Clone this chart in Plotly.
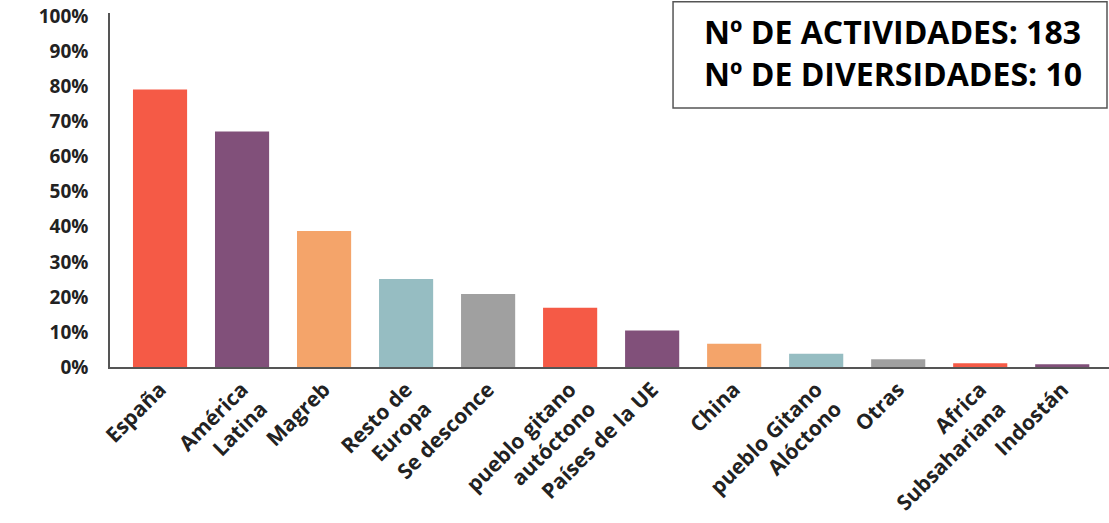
import plotly.graph_objects as go

categories = ["España", "América<br>Latina", "Magreb", "Resto de<br>Europa", "Se desconce",
              "pueblo gitano<br>autóctono", "Países de la UE", "China",
              "pueblo Gitano<br>Alóctono", "Otras", "Africa<br>Subsahariana", "Indostán"]
values = [79.2, 67.2, 38.8, 25.1, 20.8, 16.9, 10.4, 6.6, 3.8, 2.2, 1.1, 0.8]
colors = ["#F55A46", "#81507A", "#F4A46A", "#96BDC2", "#A0A0A0", "#F55A46",
          "#81507A", "#F4A46A", "#96BDC2", "#A0A0A0", "#F55A46", "#81507A"]
y_ticks = [0, 10, 20, 30, 40, 50, 60, 70, 80, 90, 100]
y_labels = [f"{v}%" for v in y_ticks]
box_lines = ["Nº DE ACTIVIDADES: 183", "Nº DE DIVERSIDADES: 10"]

FONT = "Open Sans"

fig = go.Figure(go.Bar(x=categories, y=values, marker=dict(color=colors, line=dict(width=0)),
                       hoverinfo="skip"))

fig.update_layout(
    width=1109, height=523,
    margin=dict(l=110, r=0, t=13, b=156, pad=0),
    paper_bgcolor="white", plot_bgcolor="white",
    bargap=0.34,
    showlegend=False,
    font=dict(family=FONT, color="#222222"),
)
fig.update_xaxes(
    range=[-0.61, 11.57],
    tickangle=-45,
    tickfont=dict(family=FONT, size=21, color="#222222", weight="bold"),
    showline=True, linecolor="#555555", linewidth=2,
    showgrid=False, ticks="", ticklen=0,
)
fig.update_yaxes(
    range=[0, 101],
    tickvals=y_ticks, ticktext=y_labels,
    tickfont=dict(family=FONT, size=19, color="#222222", weight="bold"),
    ticklabelstandoff=16, ticklabeloverflow="allow",
    showline=True, linecolor="#555555", linewidth=1.5,
    showgrid=False, zeroline=False, ticks="",
)
fig.add_shape(type="rect", xref="paper", yref="paper",
              x0=0.5636, x1=0.998, y0=0.7316, y1=1.032,
              line=dict(color="#555555", width=1.5), fillcolor="white", layer="above")
fig.add_annotation(xref="paper", yref="paper", x=0.784, y=0.888,
                   xanchor="center", yanchor="middle",
                   text="<br>".join(box_lines), showarrow=False, align="left",
                   font=dict(family=FONT, size=32, color="#000000", weight="bold"))

fig.write_html("out.html", config={"displayModeBar": False},
               post_script="document.body.style.margin='0';document.body.style.overflow='hidden';")
